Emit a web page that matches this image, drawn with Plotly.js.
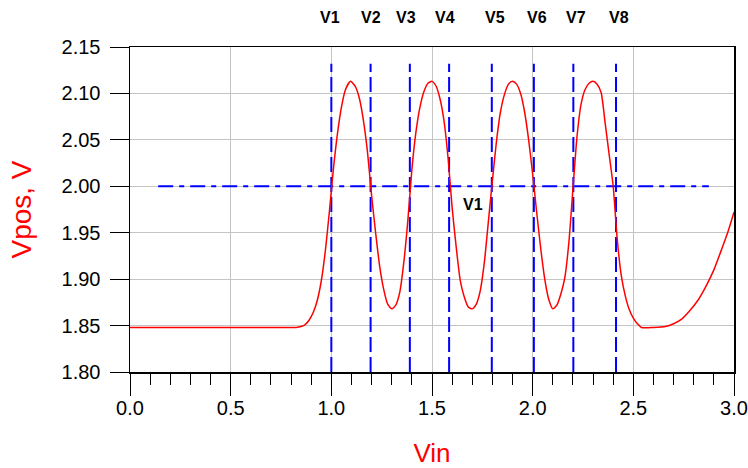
<!DOCTYPE html>
<html>
<head>
<meta charset="utf-8">
<script src="https://cdn.plot.ly/plotly-3.0.1.min.js"></script>
<style>html,body{margin:0;padding:0;background:#fff;}#chart{width:748px;height:468px;}</style>
</head>
<body>
<div id="chart"></div>
<script>
// ---- data ----
const vin = [0.00, 0.40, 0.80, 0.825, 0.85, 0.87, 0.89, 0.91, 0.93, 0.95, 0.97, 0.99, 1.00, 1.01, 1.03, 1.05, 1.07, 1.095,
  1.12, 1.14, 1.16, 1.18, 1.20, 1.22, 1.24, 1.26, 1.28, 1.30, 1.32, 1.34, 1.36, 1.38, 1.40, 1.42, 1.44, 1.46, 1.48, 1.50,
  1.52, 1.54, 1.56, 1.58, 1.60, 1.62, 1.64, 1.66, 1.68, 1.70, 1.72, 1.74, 1.76, 1.78, 1.80, 1.82, 1.84, 1.86, 1.88, 1.90,
  1.92, 1.94, 1.96, 1.98, 2.00, 2.02, 2.04, 2.06, 2.08, 2.10, 2.12, 2.14, 2.16, 2.18, 2.20, 2.22, 2.24, 2.26, 2.28, 2.30,
  2.32, 2.34, 2.36, 2.38, 2.40, 2.42, 2.44, 2.46, 2.48, 2.50, 2.52, 2.54, 2.60, 2.66, 2.70, 2.74, 2.78, 2.82, 2.86, 2.90,
  2.94, 2.97, 3.00];
const vpos = [1.848, 1.848, 1.848, 1.848, 1.849, 1.851, 1.856, 1.864, 1.877, 1.898, 1.930, 1.972, 1.995, 2.018, 2.056, 2.085, 2.104, 2.113,
  2.107, 2.094, 2.070, 2.036, 1.990, 1.950, 1.914, 1.889, 1.873, 1.868, 1.872, 1.886, 1.918, 1.963, 2.018, 2.058, 2.085, 2.102, 2.111, 2.113,
  2.108, 2.094, 2.070, 2.030, 1.977, 1.935, 1.899, 1.881, 1.870, 1.868, 1.873, 1.888, 1.918, 1.962, 2.006, 2.048, 2.080, 2.099, 2.110, 2.113,
  2.110, 2.100, 2.080, 2.050, 2.013, 1.972, 1.933, 1.900, 1.878, 1.868, 1.872, 1.884, 1.902, 1.940, 1.997, 2.053, 2.088, 2.104, 2.111, 2.113,
  2.110, 2.101, 2.068, 2.034, 2.000, 1.943, 1.904, 1.882, 1.867, 1.858, 1.852, 1.848, 1.848, 1.849, 1.852, 1.857, 1.866, 1.877, 1.892, 1.910,
  1.933, 1.951, 1.972];

const markerNames = ["V1", "V2", "V3", "V4", "V5", "V6", "V7", "V8"];
const markerX     = [1.000, 1.195, 1.390, 1.585, 1.797, 2.006, 2.202, 2.414];
const labelX      = [0.993, 1.197, 1.373, 1.567, 1.812, 2.021, 2.215, 2.430];
const markerYLow  = 1.80;
const markerYHigh = 2.132;

const refLevel = 2.00;
const refStart = 0.14;
const refEnd   = 2.875;
const refLabel = "V1";
const refLabelX = 1.702;
const refLabelY = 1.980;

const xTitle = "Vin";
const yTitle = "Vpos, V";

// ---- build traces ----
const vx = [], vy = [];
markerX.forEach(function (m) { vx.push(m, m, null); vy.push(markerYLow, markerYHigh, null); });

const traces = [
  { x: vx, y: vy, type: "scatter", mode: "lines", hoverinfo: "skip",
    line: { color: "#0000ff", width: 2, dash: "15px,5px" }, showlegend: false },
  { x: [refStart, refEnd], y: [refLevel, refLevel], type: "scatter", mode: "lines", hoverinfo: "skip",
    line: { color: "#0000ff", width: 2, dash: "15px,6px,5px,6px" }, showlegend: false },
  { x: vin, y: vpos, type: "scatter", mode: "lines",
    line: { color: "#ff0000", width: 1.5, shape: "spline", smoothing: 0.6 }, showlegend: false }
];

const FONT = "Arial, 'Liberation Sans', sans-serif";

const annotations = markerNames.map(function (n, i) {
  return { text: n, x: labelX[i], xref: "x", y: 1.0923, yref: "paper", showarrow: false,
    xanchor: "center", yanchor: "middle", font: { family: FONT, size: 16, color: "#000", weight: "bold" } };
});
annotations.push({ text: refLabel, x: refLabelX, y: refLabelY, xref: "x", yref: "y", showarrow: false,
  xanchor: "center", yanchor: "middle", font: { family: FONT, size: 16, color: "#000", weight: "bold" } });

const layout = {
  width: 748, height: 468,
  margin: { l: 130, r: 14, t: 47, b: 96, pad: 0 },
  paper_bgcolor: "#fff", plot_bgcolor: "#fff",
  font: { family: FONT, color: "#000" },
  showlegend: false,
  xaxis: {
    range: [0, 3], tick0: 0, dtick: 0.5, tickformat: ".1f",
    ticks: "outside", ticklen: 22, tickwidth: 1, tickcolor: "#000",
    showgrid: true, gridcolor: "#c4c4c4", gridwidth: 1,
    showline: true, linecolor: "#000", linewidth: 1.5, mirror: true, zeroline: false,
    minor: { dtick: 0.1, tick0: 0, ticks: "outside", ticklen: 11, tickwidth: 1, tickcolor: "#000", showgrid: false },
    tickfont: { family: FONT, size: 20, color: "#000" },
    ticklabelstandoff: -5,
    title: { text: xTitle, font: { family: FONT, size: 26, color: "#ff0000" }, standoff: 27 },
    automargin: false, fixedrange: true
  },
  yaxis: {
    range: [1.80, 2.15], tick0: 1.80, dtick: 0.05, tickformat: ".2f",
    ticks: "outside", ticklen: 19, tickwidth: 1, tickcolor: "#000",
    showgrid: true, gridcolor: "#c4c4c4", gridwidth: 1,
    showline: true, linecolor: "#000", linewidth: 1.5, mirror: true, zeroline: false,
    tickfont: { family: FONT, size: 20, color: "#000" },
    ticklabelstandoff: 5,
    title: { text: yTitle, font: { family: FONT, size: 28, color: "#ff0000" }, standoff: 22 },
    automargin: false, fixedrange: true
  },
  annotations: annotations
};

Plotly.newPlot("chart", traces, layout, { displayModeBar: false, staticPlot: true });
</script>
</body>
</html>
